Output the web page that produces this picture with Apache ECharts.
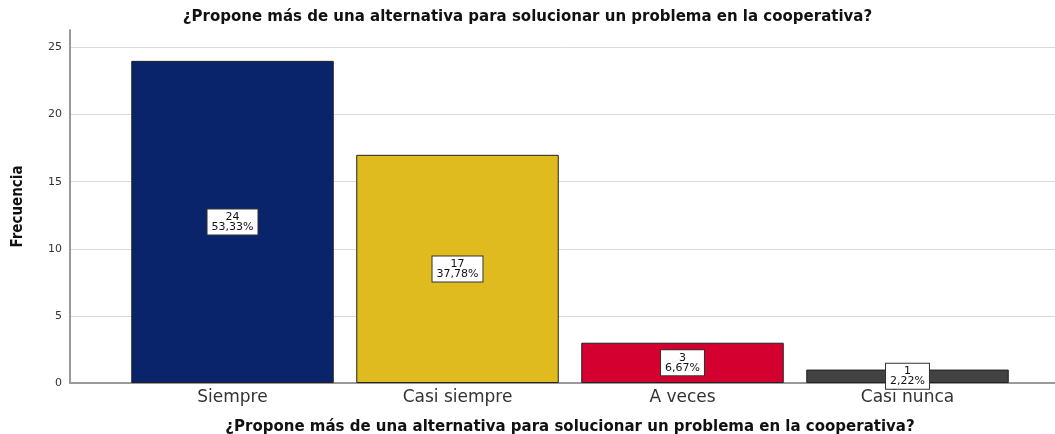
<!DOCTYPE html>
<html>
<head>
<meta charset="utf-8">
<script src="https://cdn.jsdelivr.net/npm/echarts@6/dist/echarts.min.js"></script>
<style>
  html, body { margin: 0; padding: 0; background: #fff; }
  #chart { width: 1055px; height: 434px; }
</style>
</head>
<body>
<div id="chart"></div>
<script>
var chart = echarts.init(document.getElementById('chart'));

// data
var categories = ['Siempre', 'Casi siempre', 'A veces', 'Casi nunca'];
var counts = [24, 17, 3, 1];
var percents = ['53,33%', '37,78%', '6,67%', '2,22%'];
var barColors = ['#0a246b', '#e0bb1f', '#d40030', '#424242'];

var question = '¿Propone más de una alternativa para solucionar un problema en la cooperativa?';
var yMax = 26.3;
var gridTop = 30, gridBottom = 51;

var barData = counts.map(function (v, i) {
  return { value: v, itemStyle: { color: barColors[i] } };
});

// last split line (at yMax) hidden
var gridLineColors = ['#dadada', '#dadada', '#dadada', '#dadada', '#dadada', '#dadada', 'rgba(0,0,0,0)'];

chart.setOption({
  animation: false,
  title: {
    text: question,
    left: 'center',
    top: 5,
    textStyle: { fontFamily: 'DejaVu Sans', fontWeight: 'bold', fontSize: 15, color: '#111' }
  },
  grid: [
    // frame: y axis, gridlines, baseline
    { left: 70, right: 0, top: gridTop, bottom: gridBottom, outerBoundsMode: 'none' },
    // bars
    { left: 120, right: 35, top: gridTop, bottom: gridBottom, outerBoundsMode: 'none' }
  ],
  xAxis: [
    {
      gridIndex: 0, type: 'value', min: 0, max: 1,
      axisLine: { show: true, onZero: false, lineStyle: { color: '#999', width: 2 } },
      axisTick: { show: false }, axisLabel: { show: false }, splitLine: { show: false }
    },
    {
      gridIndex: 1, type: 'category', data: categories,
      axisLine: { show: false }, axisTick: { show: false },
      axisLabel: { fontFamily: 'DejaVu Sans', fontSize: 17, color: '#333', margin: 6 },
      name: question, nameLocation: 'middle', nameGap: 37,
      nameTextStyle: { fontFamily: 'DejaVu Sans', fontWeight: 'bold', fontSize: 15, color: '#111' }
    }
  ],
  yAxis: [
    {
      gridIndex: 0, type: 'value', min: 0, max: yMax, interval: 5,
      axisLine: { show: true, lineStyle: { color: '#999', width: 2 } },
      axisTick: { show: false },
      axisLabel: { fontFamily: 'DejaVu Sans', fontSize: 11, color: '#333', margin: 8, showMaxLabel: false },
      splitLine: { show: true, lineStyle: { color: gridLineColors, width: 1 } },
      name: 'Frecuencia', nameLocation: 'middle', nameGap: 44,
      nameTextStyle: { fontFamily: "'DejaVu Sans Condensed', 'Liberation Sans', sans-serif", fontWeight: 'bold', fontSize: 15, color: '#111' }
    },
    {
      gridIndex: 1, type: 'value', min: 0, max: yMax, interval: 5,
      axisLine: { show: false }, axisTick: { show: false },
      axisLabel: { show: false }, splitLine: { show: false }
    }
  ],
  series: [{
    type: 'bar',
    xAxisIndex: 1, yAxisIndex: 1,
    data: barData,
    barCategoryGap: '10%',
    itemStyle: { borderColor: '#222', borderWidth: 1 },
    label: {
      show: true,
      position: 'inside',
      formatter: function (p) { return p.value + '\n' + percents[p.dataIndex]; },
      fontFamily: 'DejaVu Sans', fontSize: 11, lineHeight: 10, color: '#111',
      backgroundColor: '#fff', borderColor: '#333', borderWidth: 1,
      padding: [3, 4, 2, 4], align: 'center'
    }
  }]
});
</script>
</body>
</html>
